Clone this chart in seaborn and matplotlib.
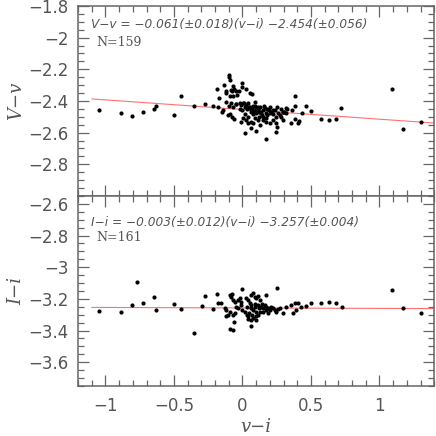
import matplotlib
matplotlib.use("Agg")
import matplotlib.pyplot as plt
from matplotlib.ticker import MultipleLocator, FixedLocator, FuncFormatter
import numpy as np
import pandas as pd
import seaborn as sns

# ── Data ────────────────────────────────────────────────────────────────────
VV_X = [-1.045, -0.889, -0.807, -0.729, -0.646, -0.632, -0.499, -0.448, -0.355, -0.273,
        -0.214, -0.183, -0.171, -0.178, -0.134, -0.117, -0.149, -0.139, -0.098, -0.095,
        -0.091, -0.122, -0.081, -0.069, -0.064, -0.044, -0.025, -0.006, -0.001, 0.028,
        -0.093, -0.069, -0.037, 0.072, -0.105, -0.088, -0.074, -0.064, -0.069, -0.020,
        -0.013, 0.004, 0.016, 0.028, 0.041, 0.053, 0.060, 0.072, 0.082, 0.089,
        0.096, 0.101, 0.113, 0.121, 0.126, 0.138, 0.150, 0.162, 0.169, 0.179,
        0.194, 0.198, 0.211, 0.223, 0.235, 0.247, 0.259, 0.271, 0.247, 0.252,
        0.242, 0.169, 0.016, 0.065, 0.101, 0.041, -0.013, 0.004, 0.028, 0.077,
        0.126, 0.150, 0.174, 0.198, 0.223, 0.296, 0.320, 0.380, 0.380, 0.363,
        0.356, 0.380, 0.405, 0.412, 0.461, 0.436, 0.502, 0.570, 0.635, 0.684,
        0.721, 0.320, 0.296, 0.283, 1.089, 1.172, 1.303,
        0.05, 0.07, 0.09, 0.11, 0.13, 0.06, 0.08, 0.10, 0.12, 0.14,
        0.03, 0.02, 0.00, -0.02, -0.05, -0.08, -0.10, 0.16, 0.18, 0.20,
        0.22, 0.25, 0.28, 0.30, 0.04, 0.09, 0.11, 0.06, 0.15, 0.17,
        -0.117, -0.073, -0.044, 0.058, 0.009, 0.077, 0.325, 0.293]
VV_Y = [-2.457, -2.478, -2.493, -2.470, -2.449, -2.430, -2.489, -2.369, -2.432, -2.421,
        -2.432, -2.326, -2.383, -2.440, -2.299, -2.404, -2.467, -2.457, -2.236, -2.250,
        -2.267, -2.352, -2.330, -2.305, -2.326, -2.337, -2.337, -2.288, -2.309, -2.326,
        -2.368, -2.368, -2.362, -2.358, -2.488, -2.482, -2.499, -2.516, -2.436, -2.410,
        -2.425, -2.415, -2.436, -2.425, -2.410, -2.436, -2.457, -2.446, -2.467, -2.404,
        -2.478, -2.453, -2.436, -2.499, -2.467, -2.478, -2.457, -2.446, -2.474, -2.488,
        -2.457, -2.478, -2.467, -2.484, -2.457, -2.499, -2.478, -2.488, -2.541, -2.562,
        -2.594, -2.642, -2.604, -2.573, -2.590, -2.541, -2.530, -2.509, -2.520, -2.541,
        -2.552, -2.520, -2.530, -2.541, -2.520, -2.467, -2.446, -2.369, -2.432, -2.457,
        -2.537, -2.516, -2.537, -2.526, -2.432, -2.478, -2.461, -2.516, -2.520, -2.512,
        -2.446, -2.478, -2.520, -2.499, -2.322, -2.575, -2.533,
        -2.44, -2.45, -2.43, -2.45, -2.44, -2.47, -2.48, -2.46, -2.47, -2.49,
        -2.45, -2.48, -2.46, -2.45, -2.42, -2.41, -2.43, -2.43, -2.45, -2.44,
        -2.46, -2.44, -2.45, -2.47, -2.50, -2.51, -2.52, -2.53, -2.50, -2.51,
        -2.335, -2.335, -2.420, -2.352, -2.415, -2.432, -2.449, -2.471]

II_X = [-1.045, -0.889, -0.807, -0.768, -0.729, -0.646, -0.632, -0.499, -0.448, -0.353,
        -0.297, -0.273, -0.215, -0.183, -0.178, -0.154, -0.129, -0.117, -0.093, -0.086,
        -0.076, -0.069, -0.057, -0.032, -0.020, -0.008, -0.001, 0.028, 0.041, 0.053,
        0.065, 0.077, 0.089, 0.101, 0.113, 0.126, 0.169, 0.252, -0.093, -0.105,
        -0.069, -0.057, -0.061, -0.093, -0.069, -0.117, 0.065, 0.041, 0.101, 0.065,
        0.138, 0.150, 0.162, 0.174, 0.186, 0.198, 0.211, 0.223, 0.235, 0.247,
        0.259, 0.271, 0.296, 0.320, 0.356, 0.380, 0.405, 0.368, 0.393, 0.429,
        0.461, 0.504, 0.570, 0.635, 0.684, 0.725, 1.089, 1.172, 1.303,
        0.00, 0.02, 0.03, 0.05, 0.06, 0.07, 0.08, 0.09, 0.10, 0.11,
        0.12, 0.13, 0.04, 0.08, 0.10, -0.03, -0.05, 0.15, 0.17, 0.19,
        0.06, 0.09, 0.11, 0.14, -0.01, 0.03]
II_Y = [-3.276, -3.285, -3.237, -3.093, -3.226, -3.188, -3.272, -3.230, -3.262, -3.415,
        -3.243, -3.180, -3.264, -3.169, -3.228, -3.228, -3.259, -3.270, -3.175, -3.186,
        -3.171, -3.207, -3.217, -3.207, -3.196, -3.217, -3.139, -3.196, -3.207, -3.228,
        -3.175, -3.165, -3.186, -3.196, -3.181, -3.207, -3.175, -3.129, -3.280, -3.301,
        -3.301, -3.291, -3.343, -3.390, -3.396, -3.308, -3.333, -3.329, -3.333, -3.369,
        -3.249, -3.259, -3.238, -3.249, -3.259, -3.270, -3.249, -3.259, -3.270, -3.280,
        -3.266, -3.259, -3.291, -3.249, -3.238, -3.228, -3.228, -3.291, -3.270, -3.249,
        -3.245, -3.228, -3.224, -3.220, -3.224, -3.253, -3.146, -3.258, -3.289,
        -3.27, -3.28, -3.25, -3.29, -3.26, -3.30, -3.27, -3.25, -3.28, -3.30,
        -3.26, -3.28, -3.31, -3.32, -3.31, -3.26, -3.25, -3.28, -3.27, -3.29,
        -3.24, -3.23, -3.24, -3.23, -3.24, -3.30]

# fit coefficients (slope, intercept) as printed on the chart
VV_FIT = (-0.061, -2.454)
II_FIT = (-0.003, -3.257)
FIT_X = [-1.1, 1.4]

sns.set_style("ticks")
plt.rcParams["font.family"] = ["DejaVu Sans"]

GREY = "#666666"
TXT = "#555555"

fig = plt.figure(figsize=(4.36, 4.36), dpi=100)
ax_top = fig.add_axes([0.179, 0.5505, 0.817, 0.4358])
ax_bot = fig.add_axes([0.179, 0.1147, 0.817, 0.4358])


def fmt(v, pos):
    s = f"{v:g}"
    return s.replace("-", "\u2212")


def style(ax, yticks, ylabels_shown, ylim):
    ax.set_xlim(-1.2, 1.4)
    ax.set_ylim(*ylim)
    ax.xaxis.set_major_locator(MultipleLocator(0.5))
    ax.xaxis.set_minor_locator(MultipleLocator(0.1))
    ax.yaxis.set_major_locator(FixedLocator(yticks))
    ax.yaxis.set_minor_locator(MultipleLocator(0.05))
    ax.yaxis.set_major_formatter(FuncFormatter(
        lambda v, p: fmt(v, p) if any(abs(v - s) < 1e-6 for s in ylabels_shown) else ""))
    ax.xaxis.set_major_formatter(FuncFormatter(fmt))
    ax.tick_params(which="both", direction="in", top=True, right=True,
                   color=GREY, labelcolor=TXT, labelsize=12, width=0.9)
    ax.tick_params(which="major", length=8)
    ax.tick_params(which="minor", length=4.5)
    ax.tick_params(axis="y", which="major", pad=7)
    ax.tick_params(axis="x", which="major", pad=8)
    for sp in ax.spines.values():
        sp.set_color(GREY)
        sp.set_linewidth(1.1)


# ── top panel: V-v ─────────────────────────────────────────────────────────
df_v = pd.DataFrame({"x": VV_X, "y": VV_Y})
sns.scatterplot(data=df_v, x="x", y="y", ax=ax_top, color="black", s=9,
                linewidth=0, zorder=3)
fx = np.array(FIT_X)
ax_top.plot(fx, VV_FIT[0] * fx + VV_FIT[1], color="#ff7070", lw=0.8, zorder=2)
style(ax_top, [-1.8, -2.0, -2.2, -2.4, -2.6, -2.8, -3.0],
      [-1.8, -2.0, -2.2, -2.4, -2.6, -2.8], (-3.0, -1.8))
ax_top.tick_params(axis="x", labelbottom=False)
ax_top.set_xlabel("")
ax_top.set_ylabel("V\u2212v", family="DejaVu Serif", style="italic", color=TXT,
                  fontsize=13, labelpad=2)
ax_top.text(0.036, 0.905, "V\u2212v = \u22120.061(\u00b10.018)(v\u2212i) \u22122.454(\u00b10.056)",
            transform=ax_top.transAxes, style="italic", color=TXT, fontsize=8.7,
            va="center", ha="left")
ax_top.text(0.052, 0.81, "N=159", transform=ax_top.transAxes, color=TXT,
            family="DejaVu Serif", fontsize=9, va="center", ha="left")

# ── bottom panel: I-i ──────────────────────────────────────────────────────
df_i = pd.DataFrame({"x": II_X, "y": II_Y})
sns.scatterplot(data=df_i, x="x", y="y", ax=ax_bot, color="black", s=9,
                linewidth=0, zorder=3)
ax_bot.plot(fx, II_FIT[0] * fx + II_FIT[1], color="#ff7070", lw=0.8, zorder=2)
style(ax_bot, [-2.6, -2.8, -3.0, -3.2, -3.4, -3.6],
      [-2.6, -2.8, -3.0, -3.2, -3.4, -3.6], (-3.75, -2.55))
ax_bot.set_ylabel("I\u2212i", family="DejaVu Serif", style="italic", color=TXT,
                  fontsize=13, labelpad=2)
ax_bot.set_xlabel("v\u2212i", family="DejaVu Serif", style="italic", color=TXT,
                  fontsize=13, labelpad=2)
ax_bot.text(0.036, 0.858, "I\u2212i = \u22120.003(\u00b10.012)(v\u2212i) \u22123.257(\u00b10.004)",
            transform=ax_bot.transAxes, style="italic", color=TXT, fontsize=8.7,
            va="center", ha="left")
ax_bot.text(0.052, 0.78, "N=161", transform=ax_bot.transAxes, color=TXT,
            family="DejaVu Serif", fontsize=9, va="center", ha="left")

fig.savefig("out.png", dpi=100)
